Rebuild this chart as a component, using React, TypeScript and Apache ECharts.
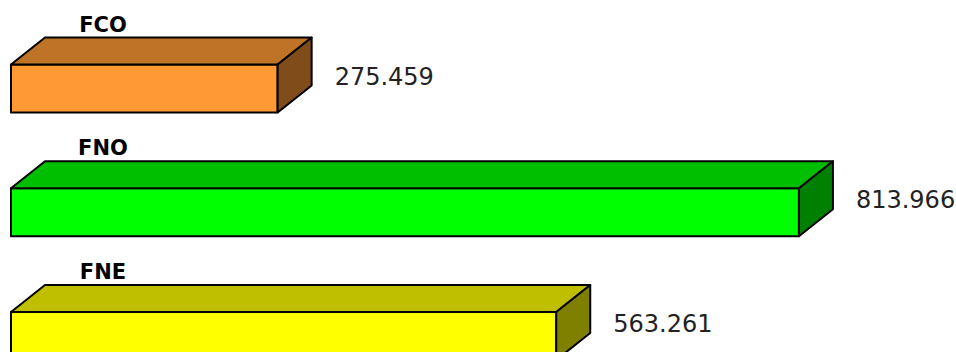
import React, { useEffect, useRef } from "react";
import * as echarts from "echarts";

const categories = ["FCO", "FNO", "FNE"];
const values = [275.459, 813.966, 563.261];

const frontColors = ["#FF9933", "#00FF00", "#FFFF00"];
const topColors = ["#BF7326", "#00BF00", "#BFBF00"];
const sideColors = ["#804D1A", "#008000", "#808000"];

export default function App() {
  const ref = useRef<HTMLDivElement>(null);
  useEffect(() => {
    if (!ref.current) return;
    const chart = echarts.init(ref.current, undefined, { renderer: "svg" });
    const BAR_H = 48;
    const DX = 34;
    const DY = 27;
    const yMin = -88.5 / 123.75;
    const yMax = yMin + 352 / 123.75;
    const option: any = {
      animation: false,
      grid: { left: 11, top: 0, width: 871.2, height: 352 },
      xAxis: { type: "value", min: 0, max: 900, show: false },
      yAxis: { type: "value", min: yMin, max: yMax, inverse: true, show: false },
      series: [
        {
          type: "custom",
          clip: false,
          encode: { x: 0, y: 1 },
          data: values.map((v, i) => [v, i]),
          renderItem: (params: any, api: any) => {
            const idx = params.dataIndex;
            const v = api.value(0);
            const c = api.value(1);
            const start = api.coord([0, c]);
            const end = api.coord([v, c]);
            const x0 = start[0];
            const x1 = end[0];
            const yc = end[1];
            const yT = yc - BAR_H / 2;
            const yB = yc + BAR_H / 2;
            const stroke = { stroke: "#000", lineWidth: 2, lineJoin: "round" };
            return {
              type: "group",
              children: [
                {
                  type: "rect",
                  shape: { x: x0, y: yT, width: x1 - x0, height: BAR_H },
                  style: { fill: frontColors[idx], ...stroke },
                },
                {
                  type: "polygon",
                  shape: {
                    points: [
                      [x0, yT],
                      [x0 + DX, yT - DY],
                      [x1 + DX, yT - DY],
                      [x1, yT],
                    ],
                  },
                  style: { fill: topColors[idx], ...stroke },
                },
                {
                  type: "polygon",
                  shape: {
                    points: [
                      [x1, yT],
                      [x1 + DX, yT - DY],
                      [x1 + DX, yB - DY],
                      [x1, yB],
                    ],
                  },
                  style: { fill: sideColors[idx], ...stroke },
                },
                {
                  type: "text",
                  style: {
                    x: x0 + 92,
                    y: yT - 40,
                    text: categories[idx],
                    fill: "#000",
                    font: "bold 21px 'DejaVu Sans'",
                    align: "center",
                    verticalAlign: "middle",
                  },
                },
                {
                  type: "text",
                  style: {
                    x: x1 + DX + 23,
                    y: yc - 12,
                    text: v.toFixed(3),
                    fill: "#222",
                    font: "24px 'DejaVu Sans'",
                    align: "left",
                    verticalAlign: "middle",
                  },
                },
              ],
            };
          },
        },
      ],
    };
    chart.setOption(option);
    return () => chart.dispose();
  }, []);
  return (
    <div
      ref={ref}
      style={{ position: "absolute", left: 0, top: 0, width: 956, height: 352 }}
    />
  );
}
